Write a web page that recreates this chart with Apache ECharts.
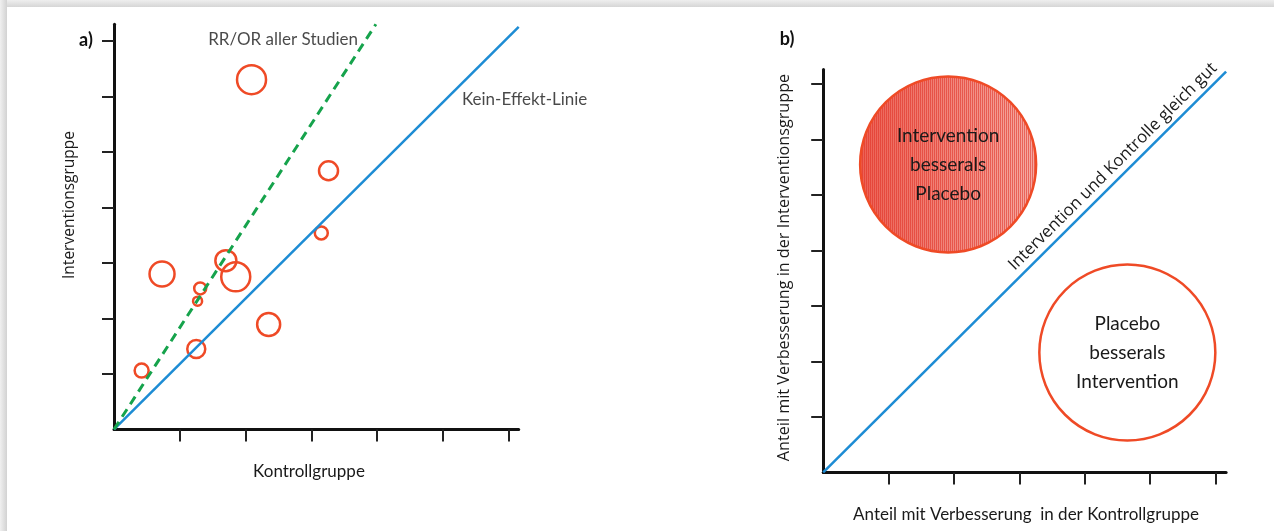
<!DOCTYPE html>
<html><head><meta charset="utf-8">
<script src="https://cdn.jsdelivr.net/npm/echarts@6/dist/echarts.min.js"></script>
<style>html,body{margin:0;padding:0;background:#fff}#c{width:1274px;height:531px}</style>
</head><body><div id="c"></div>
<script>
// ---------- Panel a data ----------
const xTicksA = [1, 2, 3, 4, 5, 6];
const yTicksA = [1, 2, 3, 4, 5, 6, 7];
const studyControl      = [2.09, 3.26, 3.15, 1.70, 1.85, 0.73, 1.31, 1.27, 2.35, 1.25, 0.42];
const studyIntervention = [6.30, 4.66, 3.54, 3.04, 2.75, 2.80, 2.54, 2.31, 1.89, 1.45, 1.06];
const studyWeight       = [29, 19, 13, 21, 29, 25, 12, 9, 23, 18, 14];
const noEffectLineA = [[0, 0], [6.15, 7.25]];
const pooledLineA   = [[0, 0], [3.98, 7.30]];
const annotationsA = [
  { name: 'RR/OR aller Studien', value: [2.57, 7.02] },
  { name: 'Kein-Effekt-Linie', value: [6.24, 5.95] }
];
// ---------- Panel b data ----------
const xTicksB = [1, 2, 3, 4, 5, 6];
const yTicksB = [1, 2, 3, 4, 5, 6, 7];
const regionLabels = ['Intervention\nbesserals\nPlacebo', 'Placebo\nbesserals\nIntervention'];
const regionControl = [1.91, 4.65];
const regionIntervention = [5.55, 2.16];
const regionSize = [176, 176];
const regionFilled = [true, false];
const equalLineB = [[0, 0], [6.16, 7.22]];
const equalLineLabel = 'Intervention und Kontrolle gleich gut';

const RED = '#ef4a26', BLUE = '#1d8cd4', GREEN = '#16a34c', INK = '#1a1a1a';
const SANS = 'Lato, "Open Sans", sans-serif';
const SANS2 = '"Open Sans", "Noto Sans", sans-serif';

// stripe pattern for the filled circle (screen-space, via custom series)
const pc = document.createElement('canvas'); pc.width = 2; pc.height = 4;
const pg = pc.getContext('2d'); pg.fillStyle = 'rgba(224,46,34,0.55)'; pg.fillRect(0, 0, 1, 4);

function axisPair(gi, xmax, ymax, xt, yt) {
  const line = { show: true, onZero: false, lineStyle: { color: '#111', width: 3 } };
  const tick = { show: true, inside: false, length: 12, lineStyle: { color: '#222', width: 2 } };
  return {
    x: { gridIndex: gi, type: 'value', min: 0, max: xmax, interval: 1,
         axisLine: line, axisTick: Object.assign({ customValues: xt }, tick),
         axisLabel: { show: false }, splitLine: { show: false } },
    y: { gridIndex: gi, type: 'value', min: 0, max: ymax, interval: 1,
         axisLine: line, axisTick: Object.assign({ customValues: yt }, tick),
         axisLabel: { show: false }, splitLine: { show: false } }
  };
}
const A = axisPair(0, 6.15, 7.3, xTicksA, yTicksA);
const B = axisPair(1, 6.16, 7.26, xTicksB, yTicksB);

const chart = echarts.init(document.getElementById('c'), null, { renderer: 'canvas' });
chart.setOption({
  animation: false,
  backgroundColor: '#fff',
  grid: [
    { left: 114, top: 24.2, width: 404.7, height: 405.2, outerBoundsMode: 'none' },
    { left: 823.2, top: 69.5, width: 402.9, height: 402.9, outerBoundsMode: 'none' }
  ],
  xAxis: [A.x, B.x],
  yAxis: [A.y, B.y],
  graphic: [
    { type: 'rect', left: 0, top: 0, shape: { width: 1274, height: 7 }, silent: true,
      style: { fill: { type: 'linear', x: 0, y: 0, x2: 0, y2: 1, colorStops: [{ offset: 0, color: '#eeeeee' }, { offset: 1, color: '#d6d6d6' }] } } },
    { type: 'rect', left: 0, top: 0, shape: { width: 7, height: 531 }, silent: true,
      style: { fill: { type: 'linear', x: 0, y: 0, x2: 1, y2: 0, colorStops: [{ offset: 0, color: '#f0f0f0' }, { offset: 1, color: '#d2d2d2' }] } } },
    { type: 'text', x: 86, y: 40, style: { text: 'a)', font: 'bold 18px ' + SANS, fill: '#111', align: 'center', verticalAlign: 'middle' } },
    { type: 'text', x: 787, y: 39, style: { text: 'b)', font: 'bold 18px ' + SANS, fill: '#111', align: 'center', verticalAlign: 'middle' } },
    { type: 'text', x: 309, y: 472, style: { text: 'Kontrollgruppe', font: '17px ' + SANS, fill: INK, align: 'center', verticalAlign: 'middle' } },
    { type: 'text', x: 70, y: 205, rotation: Math.PI / 2, style: { text: 'Interventionsgruppe', font: '15.5px ' + SANS2, fill: INK, align: 'center', verticalAlign: 'middle' } },
    { type: 'text', x: 1026, y: 515, style: { text: 'Anteil mit Verbesserung  in der Kontrollgruppe', font: '17px ' + SANS, fill: INK, align: 'center', verticalAlign: 'middle' } },
    { type: 'text', x: 784, y: 267.5, rotation: Math.PI / 2, style: { text: 'Anteil mit Verbesserung in der Interventionsgruppe', font: '16.2px ' + SANS2, fill: INK, align: 'center', verticalAlign: 'middle' } }
  ],
  series: [
    { type: 'line', xAxisIndex: 0, yAxisIndex: 0, data: noEffectLineA, symbol: 'none', silent: true,
      lineStyle: { color: BLUE, width: 2.5 } },
    { type: 'line', xAxisIndex: 0, yAxisIndex: 0, data: pooledLineA, symbol: 'none', silent: true,
      lineStyle: { color: GREEN, width: 3, type: [9, 6] } },
    { type: 'scatter', xAxisIndex: 0, yAxisIndex: 0, silent: true,
      data: studyControl.map((x, i) => [x, studyIntervention[i], studyWeight[i]]),
      symbol: 'circle', symbolSize: v => v[2],
      itemStyle: { color: 'rgba(0,0,0,0)', borderColor: RED, borderWidth: 2.5, opacity: 1 } },
    { type: 'scatter', xAxisIndex: 0, yAxisIndex: 0, silent: true, clip: false,
      data: annotationsA, symbolSize: 1, itemStyle: { color: 'rgba(0,0,0,0)' },
      label: { show: true, position: 'inside', formatter: '{b}', color: INK, fontFamily: SANS, fontSize: 17 } },
    // panel b
    { type: 'line', xAxisIndex: 1, yAxisIndex: 1, data: equalLineB, symbol: 'none', silent: true,
      lineStyle: { color: BLUE, width: 2.5 },
      markLine: { silent: true, symbol: 'none', animation: false,
        lineStyle: { color: 'rgba(0,0,0,0)', width: 1, type: 'solid' },
        label: { show: true, position: 'insideEndTop', formatter: equalLineLabel, color: INK, fontFamily: SANS2, fontSize: 16.8, distance: 4 },
        data: [[{ coord: equalLineB[0] }, { coord: equalLineB[1] }]] } },
    { type: 'custom', xAxisIndex: 1, yAxisIndex: 1, silent: true, clip: false,
      data: regionControl.map((x, i) => [x, regionIntervention[i], regionSize[i], regionFilled[i] ? 1 : 0]),
      renderItem: function (params, api) {
        if (!api.value(3)) return null;
        const c = api.coord([api.value(0), api.value(1)]);
        const r = api.value(2) / 2;
        return { type: 'group', children: [
          { type: 'circle', shape: { cx: c[0], cy: c[1], r: r },
            style: { fill: { type: 'linear', x: 0, y: 0, x2: 1, y2: 0, colorStops: [{ offset: 0, color: '#ec6154' }, { offset: 1, color: '#f5aaa2' }] } } },
          { type: 'circle', shape: { cx: c[0], cy: c[1], r: r },
            style: { fill: { image: pc, repeat: 'repeat' } } }
        ] };
      } },
    { type: 'scatter', xAxisIndex: 1, yAxisIndex: 1, silent: true,
      data: regionControl.map((x, i) => ({ value: [x, regionIntervention[i], regionSize[i]], name: regionLabels[i] })),
      symbolSize: v => v[2],
      itemStyle: { color: 'rgba(255,255,255,0)', borderColor: RED, borderWidth: 2.5, opacity: 1 },
      label: { show: true, position: 'inside', formatter: '{b}', color: INK, fontFamily: SANS, fontSize: 19, lineHeight: 29 } }
  ]
});
</script></body></html>
